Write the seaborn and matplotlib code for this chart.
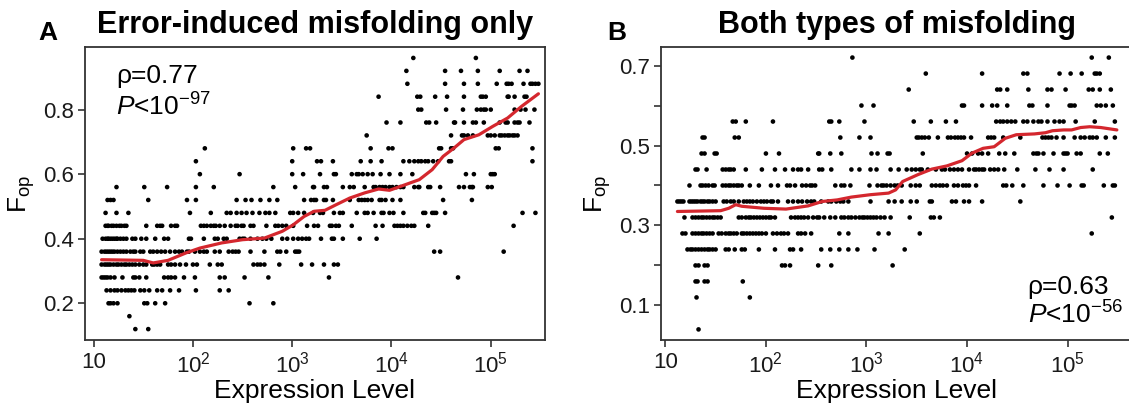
import numpy as np
import pandas as pd
import matplotlib
matplotlib.use('Agg')
import matplotlib.pyplot as plt
from matplotlib.ticker import NullLocator
import seaborn as sns

# estilo
sns.set_style('ticks')
plt.rcParams['font.family'] = ['Liberation Sans', 'DejaVu Sans']
plt.rcParams['mathtext.fontset'] = 'custom'
plt.rcParams['mathtext.rm'] = 'Liberation Sans'
plt.rcParams['mathtext.it'] = 'Liberation Sans:italic'
plt.rcParams['mathtext.bf'] = 'Liberation Sans:bold'
plt.rcParams['text.color'] = 'black'
plt.rcParams['axes.labelcolor'] = 'black'

# =============================================================================
# PANEL A - log10(expression level) for each F_op level
# =============================================================================
a_096 = [4.22, 4.85]
a_092 = [4.15, 4.54, 4.70, 4.87, 5.09, 5.29, 5.37]
a_088 = [4.16, 4.54, 4.73, 4.87, 5.06, 5.16, 5.18, 5.21, 5.33, 5.40, 5.42, 5.45, 5.48]
a_084 = [3.87, 4.26, 4.29, 4.44, 4.56, 4.73, 4.90, 4.92, 4.95, 5.17, 5.18, 5.24, 5.34, 5.36]
a_080 = [4.27, 4.30, 4.55, 4.72, 4.86, 4.90, 4.93, 4.95, 5.00, 5.24, 5.30, 5.35, 5.44]
a_076 = [3.95, 4.09, 4.35, 4.38, 4.45, 4.63, 4.64, 4.73, 4.82, 4.85, 4.93, 5.09, 5.15,
         5.17, 5.24, 5.27, 5.29, 5.39]
a_072 = [3.75, 4.60, 4.71, 4.73, 4.77, 4.82, 4.97, 5.00, 5.04, 5.09, 5.11, 5.14, 5.17,
         5.19, 5.22, 5.24, 5.27]
a_068 = [2.12, 3.01, 3.14, 3.18, 3.79, 3.97, 4.01, 4.48, 4.50, 4.60, 4.62, 5.05, 5.08, 5.42]
a_064 = [2.03, 3.00, 3.25, 3.29, 3.41, 3.69, 3.79, 3.90, 4.12, 4.18, 4.23, 4.27, 4.30,
         4.34, 4.37, 4.42, 4.47, 4.58, 4.60, 5.42]
a_060 = [2.07, 2.47, 3.00, 3.11, 3.28, 3.42, 3.44, 3.60, 3.65, 3.67, 3.71, 3.76, 3.81,
         3.89, 3.98, 4.09, 4.21, 4.75, 4.83, 5.00, 5.02, 5.04]
a_056 = [1.23, 1.51, 1.74, 2.03, 2.21, 2.81, 3.03, 3.21, 3.22, 3.32, 3.35, 3.51, 3.58,
         3.62, 3.73, 3.82, 3.84, 3.88, 3.91, 3.94, 3.98, 4.01, 4.05, 4.09, 4.12, 4.23,
         4.27, 4.28, 4.37, 4.39, 4.49, 4.68, 4.73, 4.79, 4.81, 4.82, 4.97, 5.01]
a_052 = [1.14, 1.17, 1.20, 1.55, 1.94, 2.03, 2.44, 2.53, 2.59, 2.68, 2.77, 2.85, 3.12,
         3.19, 3.22, 3.24, 3.32, 3.34, 3.41, 3.58, 3.67, 3.70, 3.73, 3.76, 3.80, 3.88,
         3.90, 3.94, 4.01, 4.09, 4.52, 4.81]
a_048 = [1.12, 1.23, 1.35, 1.97, 2.18, 2.34, 2.38, 2.44, 2.49, 2.54, 2.60, 2.67, 2.73,
         2.77, 2.83, 2.98, 3.01, 3.06, 3.12, 3.21, 3.28, 3.31, 3.42, 3.48, 3.51, 3.65,
         3.73, 3.76, 3.82, 3.90, 3.92, 3.98, 4.02, 4.12, 4.32, 4.34, 4.41, 4.43, 4.45,
         4.54, 5.32, 5.45]
a_044 = [1.12, 1.14, 1.15, 1.18, 1.20, 1.23, 1.26, 1.28, 1.31, 1.33, 1.53, 1.64, 1.67,
         1.69, 1.78, 1.82, 1.84, 2.08, 2.11, 2.14, 2.18, 2.21, 2.23, 2.27, 2.32, 2.38,
         2.43, 2.45, 2.49, 2.51, 2.58, 2.61, 2.74, 2.83, 2.86, 2.90, 2.94, 3.01, 3.15,
         3.22, 3.26, 3.38, 3.40, 3.44, 3.47, 3.60, 3.84, 3.91, 4.03, 4.06, 4.09, 4.12,
         4.16, 4.20, 4.23, 4.37, 5.23]
a_040 = [1.09, 1.12, 1.14, 1.15, 1.17, 1.19, 1.21, 1.23, 1.24, 1.27, 1.30, 1.33, 1.39,
         1.42, 1.48, 1.53, 1.62, 1.71, 1.75, 1.96, 1.98, 2.11, 2.22, 2.25, 2.31, 2.34,
         2.47, 2.50, 2.52, 2.58, 2.65, 2.70, 2.74, 2.79, 2.90, 2.95, 3.01, 3.06, 3.10,
         3.14, 3.17, 3.29, 3.40, 3.42, 3.51, 3.68, 3.85]
a_036 = [1.08, 1.11, 1.13, 1.15, 1.17, 1.19, 1.21, 1.24, 1.27, 1.30, 1.33, 1.37, 1.40,
         1.42, 1.47, 1.50, 1.57, 1.60, 1.64, 1.68, 1.72, 1.77, 1.82, 1.86, 1.89, 1.94,
         1.96, 2.02, 2.07, 2.11, 2.14, 2.22, 2.27, 2.36, 2.40, 2.43, 2.46, 2.58, 2.72,
         2.85, 2.88, 2.94, 3.03, 3.05, 3.07, 4.43, 4.49, 5.13]
a_032 = [1.08, 1.11, 1.13, 1.15, 1.17, 1.20, 1.23, 1.25, 1.28, 1.31, 1.33, 1.36, 1.39,
         1.42, 1.46, 1.50, 1.53, 1.59, 1.61, 1.64, 1.67, 1.75, 1.78, 1.82, 1.87, 1.93,
         2.00, 2.04, 2.17, 2.25, 2.29, 2.61, 2.65, 2.68, 2.72, 2.87, 3.09, 3.20, 3.32,
         3.42, 3.46]
a_028 = [1.08, 1.10, 1.12, 1.14, 1.17, 1.21, 1.29, 1.40, 1.42, 1.46, 1.53, 1.71, 1.75,
         1.78, 1.82, 1.91, 2.02, 2.27, 2.32, 2.52, 2.76, 3.37, 4.67]
a_024 = [1.13, 1.17, 1.21, 1.24, 1.28, 1.32, 1.35, 1.38, 1.41, 1.47, 1.51, 1.56, 1.64,
         1.69, 1.77, 1.86, 2.03, 2.27, 2.36]
a_020 = [1.15, 1.17, 1.20, 1.24, 1.51, 1.54, 1.62, 1.72, 2.57, 2.81]
a_016 = [1.36]
a_012 = [1.42, 1.55]

a_levels = [0.96, 0.92, 0.88, 0.84, 0.80, 0.76, 0.72, 0.68, 0.64, 0.60, 0.56, 0.52,
            0.48, 0.44, 0.40, 0.36, 0.32, 0.28, 0.24, 0.20, 0.16, 0.12]
a_rows = [a_096, a_092, a_088, a_084, a_080, a_076, a_072, a_068, a_064, a_060, a_056,
          a_052, a_048, a_044, a_040, a_036, a_032, a_028, a_024, a_020, a_016, a_012]

# curva suavizada A
a_fit_x = [1.08, 1.50, 1.60, 1.75, 1.93, 2.07, 2.29, 2.50, 2.72, 2.90, 3.01, 3.12, 3.22,
           3.33, 3.44, 3.58, 3.73, 3.87, 3.98, 4.09, 4.28, 4.41, 4.52, 4.63, 4.73, 4.88,
           5.02, 5.17, 5.31, 5.48]
a_fit_y = [0.335, 0.333, 0.325, 0.333, 0.356, 0.371, 0.387, 0.397, 0.402, 0.423, 0.443,
           0.469, 0.485, 0.488, 0.505, 0.526, 0.542, 0.554, 0.550, 0.562, 0.583, 0.614,
           0.655, 0.681, 0.707, 0.722, 0.748, 0.774, 0.810, 0.849]

# =============================================================================
# PANEL B - log10(expression level) for each F_op level
# =============================================================================
b_072 = [2.86, 5.24, 5.41]
b_068 = [3.59, 4.15, 4.56, 4.60, 4.92, 5.03, 5.14, 5.27, 5.29, 5.32]
b_064 = [3.42, 4.30, 4.33, 4.40, 4.61, 4.80, 4.84, 4.98, 5.21, 5.25, 5.32, 5.43]
b_060 = [2.95, 3.07, 3.95, 3.97, 4.15, 4.25, 4.30, 4.40, 4.62, 4.65, 4.80, 5.02, 5.04,
         5.07, 5.29, 5.33, 5.38, 5.45]
b_056 = [1.67, 1.70, 1.80, 2.07, 2.63, 2.65, 2.73, 2.98, 3.47, 3.64, 3.79, 3.89, 4.29,
         4.33, 4.36, 4.40, 4.44, 4.48, 4.56, 4.60, 4.66, 4.71, 4.74, 4.80, 4.87, 4.92,
         4.96, 5.08, 5.27, 5.47]
b_052 = [1.37, 1.39, 1.69, 1.73, 2.74, 2.93, 3.04, 3.50, 3.52, 3.55, 3.58, 3.62, 3.71,
         3.81, 3.84, 3.88, 3.91, 3.94, 3.97, 4.04, 4.21, 4.24, 4.27, 4.36, 4.53, 4.75,
         4.78, 4.81, 4.84, 4.89, 4.96, 5.07, 5.13, 5.17, 5.22, 5.25, 5.29, 5.38, 5.47]
b_048 = [1.36, 1.39, 1.49, 1.51, 2.00, 2.13, 2.52, 2.53, 2.64, 2.75, 3.05, 3.11, 3.21,
         3.23, 3.56, 4.00, 4.05, 4.11, 4.15, 4.21, 4.32, 4.38, 4.47, 4.66, 4.69, 4.71,
         4.76, 4.86, 4.96, 4.98, 5.00, 5.09, 5.13, 5.32, 5.40]
b_044 = [1.30, 1.32, 1.41, 1.57, 1.60, 1.63, 1.65, 1.68, 1.80, 1.96, 2.09, 2.19, 2.27,
         2.32, 2.35, 2.42, 2.53, 2.56, 2.65, 2.85, 2.93, 3.04, 3.10, 3.24, 3.32, 3.40,
         3.45, 3.49, 3.53, 3.55, 3.61, 3.69, 3.75, 3.78, 3.83, 3.87, 3.91, 3.95, 4.02,
         4.07, 4.09, 4.12, 4.15, 4.17, 4.23, 4.27, 4.31, 4.37, 4.50, 4.68, 4.82, 4.96,
         5.25]
b_040 = [1.24, 1.35, 1.37, 1.40, 1.43, 1.47, 1.49, 1.57, 1.60, 1.63, 1.65, 1.68, 1.71,
         1.73, 1.76, 1.84, 1.93, 2.05, 2.12, 2.21, 2.24, 2.29, 2.36, 2.40, 2.44, 2.46,
         2.49, 2.69, 2.75, 2.78, 2.84, 3.03, 3.11, 3.15, 3.17, 3.20, 3.24, 3.28, 3.31,
         3.35, 3.44, 3.49, 3.53, 3.65, 3.69, 3.73, 3.76, 3.80, 3.87, 3.91, 3.96, 3.99,
         4.02, 4.09, 4.36, 4.39, 4.45, 4.56, 4.76, 4.90, 5.02, 5.14, 5.16, 5.36, 5.45,
         5.47]
b_036 = [1.12, 1.14, 1.16, 1.18, 1.24, 1.26, 1.28, 1.30, 1.32, 1.35, 1.37, 1.39, 1.42,
         1.44, 1.47, 1.50, 1.58, 1.61, 1.65, 1.68, 1.73, 1.78, 1.81, 1.84, 1.87, 1.91,
         1.95, 1.98, 2.01, 2.05, 2.07, 2.12, 2.22, 2.27, 2.32, 2.36, 2.41, 2.45, 2.48,
         2.55, 2.62, 2.65, 2.70, 2.74, 2.77, 2.82, 3.04, 3.22, 3.28, 3.35, 3.44, 3.50,
         3.63, 3.65, 3.85, 3.89, 3.97, 4.02, 4.15, 4.53]
b_032 = [1.19, 1.27, 1.30, 1.33, 1.36, 1.38, 1.41, 1.44, 1.47, 1.49, 1.52, 1.55, 1.73,
         1.76, 1.80, 1.83, 1.85, 1.88, 1.91, 1.94, 1.97, 2.00, 2.03, 2.05, 2.09, 2.25,
         2.29, 2.32, 2.35, 2.38, 2.42, 2.47, 2.51, 2.53, 2.58, 2.64, 2.69, 2.75, 2.78,
         2.82, 2.85, 2.89, 2.93, 2.96, 2.98, 3.01, 3.04, 3.07, 3.10, 3.14, 3.18, 3.24,
         3.43, 3.64, 3.67, 3.73, 5.44]
b_028 = [1.17, 1.20, 1.27, 1.30, 1.33, 1.36, 1.38, 1.41, 1.44, 1.47, 1.53, 1.56, 1.60,
         1.63, 1.65, 1.68, 1.71, 1.76, 1.78, 1.81, 1.84, 1.87, 1.90, 1.93, 1.96, 2.00,
         2.07, 2.11, 2.15, 2.18, 2.22, 2.32, 2.35, 2.39, 2.45, 2.73, 2.82, 3.12, 3.22,
         3.53, 5.24]
b_024 = [1.22, 1.25, 1.27, 1.30, 1.33, 1.36, 1.39, 1.42, 1.44, 1.47, 1.50, 1.60, 1.63,
         1.69, 1.76, 1.79, 1.93, 2.09, 2.24, 2.27, 2.35, 2.55, 2.64, 2.73, 2.82, 2.91,
         3.08, 3.38]
b_020 = [1.30, 1.33, 1.39, 1.42, 2.16, 2.19, 2.24, 2.52, 2.65, 3.26]
b_016 = [1.30, 1.32, 1.39, 1.42, 1.77]
b_012 = [1.31, 1.84]
b_004 = [1.33]

b_levels = [0.72, 0.68, 0.64, 0.60, 0.56, 0.52, 0.48, 0.44, 0.40, 0.36, 0.32, 0.28,
            0.24, 0.20, 0.16, 0.12, 0.04]
b_rows = [b_072, b_068, b_064, b_060, b_056, b_052, b_048, b_044, b_040, b_036, b_032,
          b_028, b_024, b_020, b_016, b_012, b_004]

# curva suavizada B
b_fit_x = [1.12, 1.55, 1.63, 1.70, 1.76, 1.98, 2.20, 2.42, 2.56, 2.71, 2.85, 3.04, 3.22,
           3.29, 3.36, 3.51, 3.65, 3.80, 3.95, 4.05, 4.16, 4.27, 4.38, 4.49, 4.67, 4.78,
           4.85, 4.96, 5.04, 5.13, 5.22, 5.33, 5.49]
b_fit_y = [0.335, 0.337, 0.343, 0.352, 0.348, 0.343, 0.341, 0.349, 0.360, 0.364, 0.371,
           0.377, 0.381, 0.389, 0.410, 0.427, 0.441, 0.449, 0.462, 0.481, 0.493, 0.497,
           0.518, 0.527, 0.529, 0.532, 0.537, 0.539, 0.539, 0.545, 0.547, 0.545, 0.539]

x_ticks = [10, 1e2, 1e3, 1e4, 1e5]
x_ticklabels = ['10', '10$^{2}$', '10$^{3}$', '10$^{4}$', '10$^{5}$']


def to_frame(levels, rows):
    recs = [(10 ** lx, f) for f, row in zip(levels, rows) for lx in row]
    return pd.DataFrame(recs, columns=['expr', 'fop'])


df_a = to_frame(a_levels, a_rows)
df_b = to_frame(b_levels, b_rows)

fig = plt.figure(figsize=(11.29, 4.05), dpi=100)
ax_a = fig.add_axes([0.0753, 0.1595, 0.4074, 0.7245])
ax_b = fig.add_axes([0.5855, 0.1595, 0.4180, 0.7255])

line_color = '#d4272e'
edge = '#333333'

for ax, df, fx, fy in [(ax_a, df_a, a_fit_x, a_fit_y), (ax_b, df_b, b_fit_x, b_fit_y)]:
    sns.scatterplot(data=df, x='expr', y='fop', ax=ax, s=11, color='black',
                    edgecolor='none', linewidth=0, legend=False)
    sns.lineplot(x=10 ** np.array(fx), y=fy, ax=ax, color=line_color, lw=2.3,
                 estimator=None, sort=True)
    ax.set_xscale('log')
    ax.set_xticks(x_ticks)
    ax.set_xticklabels(x_ticklabels)
    ax.xaxis.set_minor_locator(NullLocator())
    ax.tick_params(axis='both', labelsize=16, direction='out', length=5, width=1.2,
                   color=edge, labelcolor='#1a1a1a', pad=3)
    for sp in ax.spines.values():
        sp.set_linewidth(1.3)
        sp.set_color(edge)
        sp.set_visible(True)
    ax.set_xlabel('Expression Level', fontsize=19, labelpad=1)
    ax.set_ylabel('F$_{\\rm op}$', fontsize=19, labelpad=4)

# Panel A
ax_a.set_xlim(10 ** 0.913, 10 ** 5.546)
ax_a.set_ylim(0.085, 0.994)
ax_a.set_yticks([0.2, 0.4, 0.6, 0.8])
ax_a.set_yticklabels(['0.2', '0.4', '0.6', '0.8'])
ax_a.set_title('Error-induced misfolding only', fontsize=22, fontweight='bold', pad=10,
               color='black')
ax_a.text(0.067, 0.90, 'ρ=0.77', transform=ax_a.transAxes, fontsize=19,
          ha='left', va='center')
ax_a.text(0.067, 0.795, '$\\mathit{P}$<10$^{-97}$', transform=ax_a.transAxes,
          fontsize=19, ha='left', va='center')

# Panel B
ax_b.set_xlim(10 ** 0.957, 10 ** 5.65)
ax_b.set_ylim(0.0125, 0.7475)
ax_b.set_yticks([0.1, 0.2, 0.3, 0.4, 0.5, 0.6, 0.7])
ax_b.set_yticklabels(['0.1', '', '0.3', '', '0.5', '', '0.7'])
ax_b.set_title('Both types of misfolding', fontsize=22, fontweight='bold', pad=10,
               color='black')
ax_b.text(0.777, 0.183, 'ρ=0.63', transform=ax_b.transAxes, fontsize=19,
          ha='left', va='center')
ax_b.text(0.777, 0.087, '$\\mathit{P}$<10$^{-56}$', transform=ax_b.transAxes,
          fontsize=19, ha='left', va='center')

# etiquetas de panel
fig.text(0.034, 0.918, 'A', fontsize=19, fontweight='bold', ha='left', va='center')
fig.text(0.538, 0.918, 'B', fontsize=19, fontweight='bold', ha='left', va='center')

fig.savefig('out.png', dpi=100, facecolor='white')
plt.close(fig)
